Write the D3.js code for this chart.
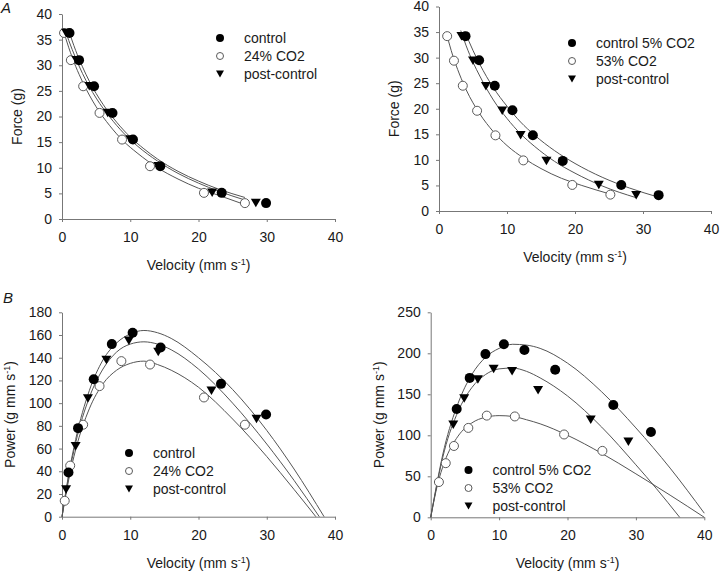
<!DOCTYPE html>
<html>
<head>
<meta charset="utf-8">
<script src="https://cdn.jsdelivr.net/npm/d3@7"></script>
<style>
  body { margin: 0; background: #fff; }
  text { font-family: "Liberation Sans", Arial, sans-serif; fill: #1a1a1a; }
</style>
</head>
<body>
<svg id="chart" width="720" height="572"></svg>
<script>
// ---- tick labels ----
const velTicks = [0, 10, 20, 30, 40];
const forceTicks = [0, 5, 10, 15, 20, 25, 30, 35, 40];
const powerTicksL = [0, 20, 40, 60, 80, 100, 120, 140, 160, 180];
const powerTicksR = [0, 50, 100, 150, 200, 250];

const legendLeft = ["control", "24% CO2", "post-control"];
const legendRight = ["control 5% CO2", "53% CO2", "post-control"];

// ---- panel A, left: force vs velocity (points) ----
const aLCtrlV = [1.1, 2.5, 4.7, 7.4, 10.4, 14.4, 23.4, 29.9];
const aLCtrlF = [36.3, 31.0, 25.9, 20.7, 15.5, 10.3, 5.1, 3.1];
const aLCo2V  = [0.3, 1.3, 3.1, 5.5, 8.8, 12.9, 20.8, 26.8];
const aLCo2F  = [36.3, 31.0, 25.9, 20.7, 15.5, 10.3, 5.1, 3.1];
const aLPostV = [0.6, 2.1, 4.0, 6.7, 10.0, 14.1, 22.0, 28.4];
const aLPostF = [36.3, 31.0, 25.9, 20.7, 15.5, 10.3, 5.1, 3.1];
// fitted curves
const aLCtrlFitV = [0.9, 2, 3, 4, 6, 8, 10, 12, 14, 17, 20, 23, 26.8];
const aLCtrlFitF = [37.1, 32.9, 29.7, 26.9, 22.4, 18.9, 16.0, 13.7, 11.7, 9.3, 7.4, 5.8, 4.2];
const aLCo2FitV  = [0.1, 1, 2, 3, 5, 7, 9, 11, 14, 17, 20, 23, 26.8];
const aLCo2FitF  = [37.2, 33.4, 29.8, 26.8, 21.9, 18.2, 15.2, 12.9, 10.0, 7.8, 6.0, 4.6, 2.8];
const aLPostFitV = [0.4, 1, 2, 3, 5, 7, 9, 11, 14, 17, 20, 23, 26.8];
const aLPostFitF = [37.1, 34.8, 31.4, 28.4, 23.6, 19.9, 16.8, 14.3, 11.3, 8.9, 7.0, 5.4, 3.7];

// ---- panel A, right ----
const aRCtrlV = [3.9, 5.9, 8.2, 10.8, 13.8, 18.2, 26.8, 32.3];
const aRCtrlF = [34.2, 29.5, 24.5, 19.7, 14.8, 9.8, 5.1, 3.1];
const aRCo2V  = [1.2, 2.2, 3.5, 5.6, 8.3, 12.4, 19.6, 25.2];
const aRCo2F  = [34.2, 29.4, 24.5, 19.6, 14.8, 9.9, 5.1, 3.2];
const aRPostV = [3.3, 5.0, 6.9, 9.3, 12.0, 15.8, 23.5, 29.0];
const aRPostF = [34.2, 29.4, 24.4, 19.6, 14.8, 9.8, 5.1, 3.1];
const aRCtrlFitV = [3.8, 5, 6, 8, 10, 12, 14, 17, 20, 24, 28, 32.3];
const aRCtrlFitF = [35.1, 31.4, 28.7, 24.1, 20.5, 17.4, 14.9, 11.8, 9.3, 6.6, 4.5, 2.7];
const aRCo2FitV  = [1.2, 2, 3, 4, 6, 8, 10, 12.5, 15, 18, 21, 25.2];
const aRCo2FitF  = [34.2, 30.5, 26.8, 23.7, 19.0, 15.5, 12.8, 10.3, 8.3, 6.4, 5.0, 3.3];
const aRPostFitV = [3.2, 4, 5, 6, 8, 10, 12, 14, 17, 20, 24, 29];
const aRPostFitF = [35.3, 32.3, 29.1, 26.4, 21.7, 18.1, 15.1, 12.7, 9.7, 7.4, 4.9, 2.6];

// ---- panel B, left: power vs velocity ----
const bLCtrlV = [0.95, 2.35, 4.65, 7.3, 10.35, 14.45, 23.3, 29.9];
const bLCtrlP = [39, 78, 121, 152, 162, 149, 117, 90];
const bLCo2V  = [0.4, 1.2, 3.1, 5.5, 8.7, 12.9, 20.8, 26.8];
const bLCo2P  = [14, 45, 81, 115, 137, 134, 105, 81];
const bLPostV = [0.6, 2.0, 3.8, 6.5, 9.8, 14.1, 21.9, 28.5];
const bLPostP = [24, 62, 104, 138, 155, 145, 111, 86];
const bLCtrlFitV = [0, 1, 2, 4, 6, 8, 10, 12, 14, 16, 20, 25, 30, 34, 38.4];
const bLCtrlFitP = [0, 38, 68, 111, 138, 153, 161, 164, 162, 157, 140, 112, 76, 42, 0];
const bLCo2FitV  = [0, 1, 2, 4, 6, 8, 10, 12, 14, 16, 20, 25, 30, 34, 37.2];
const bLCo2FitP  = [0, 33, 59, 95, 117, 129, 135, 137, 134, 129, 114, 86, 53, 24, 0];
const bLPostFitV = [0, 1, 2, 4, 6, 8, 10, 12, 14, 16, 20, 25, 30, 34, 37.7];
const bLPostFitP = [0, 36, 65, 105, 130, 145, 152, 154, 152, 147, 130, 100, 64, 32, 0];

// ---- panel B, right ----
const bRCtrlV = [3.8, 5.7, 8.0, 10.7, 13.7, 18.2, 26.7, 32.2];
const bRCtrlP = [132, 170, 199, 211, 204, 180, 137, 104];
const bRCo2V  = [1.2, 2.2, 3.4, 5.5, 8.2, 12.3, 19.5, 25.1];
const bRCo2P  = [43, 66, 87, 109, 124, 123, 101, 81];
const bRPostV = [3.3, 4.9, 6.9, 9.2, 11.9, 15.7, 23.4, 28.9];
const bRPostP = [113, 145, 168, 181, 178, 155, 119, 92];
const bRCtrlFitV = [0, 2, 4, 6, 8, 10, 12, 14, 16, 20, 25, 30, 35, 40];
const bRCtrlFitP = [0, 85, 139, 174, 195, 206, 211, 210, 206, 188, 153, 109, 60, 5];
const bRCo2FitV  = [0, 1, 2, 4, 6, 8, 10, 12, 14, 16, 20, 25, 30, 35, 40];
const bRCo2FitP  = [0, 40, 67, 99, 115, 122, 124, 123, 119, 114, 100, 78, 53, 27, 0];
const bRPostFitV = [0, 2, 4, 6, 8, 10, 12, 14, 16, 20, 25, 30, 33, 36.4];
const bRPostFitP = [0, 81, 129, 158, 174, 181, 182, 178, 170, 148, 110, 64, 35, 0];

const svg = d3.select("#chart");
const axisColor = "#777";
const curveColor = "#555";

function marker(g, kind, cx, cy, r) {
  if (kind === "tri") {
    const w = r, h = r * 0.85;
    g.append("path")
      .attr("d", `M${cx - w},${cy - h}L${cx + w},${cy - h}L${cx},${cy + h}Z`)
      .attr("fill", "#000");
  } else {
    g.append("circle")
      .attr("cx", cx).attr("cy", cy).attr("r", kind === "open" ? r - 0.5 : r)
      .attr("fill", kind === "open" ? "#fff" : "#000")
      .attr("stroke", kind === "open" ? "#5a5a5a" : "none")
      .attr("stroke-width", 1);
  }
}

function drawPanel(p) {
  const x = d3.scaleLinear().domain([0, 40]).range([p.left, p.right]);
  const y = d3.scaleLinear().domain([0, p.yMax]).range([p.bottom, p.top]);
  const g = svg.append("g");

  // X axis
  const gx = g.append("g")
    .attr("transform", `translate(0,${p.bottom})`)
    .call(d3.axisBottom(x).tickValues(velTicks).tickSize(3).tickSizeOuter(0).tickPadding(10));
  // Y axis
  const gy = g.append("g")
    .attr("transform", `translate(${p.left},0)`)
    .call(d3.axisLeft(y).tickValues(p.yTicks).tickSize(3).tickSizeOuter(0).tickPadding(7));
  [gx, gy].forEach(a => {
    a.attr("font-family", null).attr("font-size", 14);
    a.selectAll("path, line").attr("stroke", axisColor);
    a.selectAll("text").attr("fill", "#1a1a1a");
  });

  // axis titles
  const xt = g.append("text")
    .attr("x", (p.left + p.right) / 2).attr("y", p.bottom + 51)
    .attr("text-anchor", "middle").attr("font-size", 14);
  xt.append("tspan").text("Velocity (mm s");
  xt.append("tspan").attr("dy", -5).attr("font-size", 9).text("-1");
  xt.append("tspan").attr("dy", 5).text(")");

  const yt = g.append("text")
    .attr("transform", `translate(${p.left - p.yTitleOff},${(p.top + p.bottom) / 2}) rotate(-90)`)
    .attr("text-anchor", "middle").attr("font-size", 14);
  if (p.power) {
    yt.append("tspan").text("Power (g mm s");
    yt.append("tspan").attr("dy", -5).attr("font-size", 9).text("-1");
    yt.append("tspan").attr("dy", 5).text(")");
  } else {
    yt.text("Force (g)");
  }

  // fitted curves
  const line = d3.line().x(d => x(d[0])).y(d => y(d[1])).curve(d3.curveMonotoneX);
  p.fits.forEach(f => {
    g.append("path").attr("d", line(d3.zip(f[0], f[1])))
      .attr("fill", "none").attr("stroke", curveColor).attr("stroke-width", 1);
  });

  // data points: open first, then triangles, filled on top
  p.series.forEach(s => {
    d3.zip(s.v, s.y).forEach(d => marker(g, s.kind, x(d[0]), y(d[1]), 5));
  });

  // legend
  const kinds = ["filled", "open", "tri"];
  p.legend.forEach((lab, i) => {
    const ly = p.legY + i * 18;
    marker(g, kinds[i], p.legX, ly, 4);
    g.append("text").attr("x", p.legX + 24).attr("y", ly).attr("dy", "0.35em")
      .attr("font-size", 14).text(lab);
  });
}

drawPanel({
  left: 62, right: 335, top: 14, bottom: 219, yMax: 40, yTicks: forceTicks, yTitleOff: 40,
  fits: [[aLCtrlFitV, aLCtrlFitF], [aLCo2FitV, aLCo2FitF], [aLPostFitV, aLPostFitF]],
  series: [
    { kind: "open", v: aLCo2V, y: aLCo2F },
    { kind: "tri", v: aLPostV, y: aLPostF },
    { kind: "filled", v: aLCtrlV, y: aLCtrlF }
  ],
  legend: legendLeft, legX: 220, legY: 38
});

drawPanel({
  left: 439, right: 711, top: 6.5, bottom: 211, yMax: 40, yTicks: forceTicks, yTitleOff: 40,
  fits: [[aRCtrlFitV, aRCtrlFitF], [aRCo2FitV, aRCo2FitF], [aRPostFitV, aRPostFitF]],
  series: [
    { kind: "open", v: aRCo2V, y: aRCo2F },
    { kind: "tri", v: aRPostV, y: aRPostF },
    { kind: "filled", v: aRCtrlV, y: aRCtrlF }
  ],
  legend: legendRight, legX: 572, legY: 43
});

drawPanel({
  left: 62, right: 335, top: 312.3, bottom: 516.7, yMax: 180, yTicks: powerTicksL, yTitleOff: 47, power: true,
  fits: [[bLCtrlFitV, bLCtrlFitP], [bLCo2FitV, bLCo2FitP], [bLPostFitV, bLPostFitP]],
  series: [
    { kind: "open", v: bLCo2V, y: bLCo2P },
    { kind: "tri", v: bLPostV, y: bLPostP },
    { kind: "filled", v: bLCtrlV, y: bLCtrlP }
  ],
  legend: legendLeft, legX: 129, legY: 453
});

drawPanel({
  left: 430.7, right: 704.3, top: 312.3, bottom: 517.3, yMax: 250, yTicks: powerTicksR, yTitleOff: 47, power: true,
  fits: [[bRCtrlFitV, bRCtrlFitP], [bRCo2FitV, bRCo2FitP], [bRPostFitV, bRPostFitP]],
  series: [
    { kind: "open", v: bRCo2V, y: bRCo2P },
    { kind: "tri", v: bRPostV, y: bRPostP },
    { kind: "filled", v: bRCtrlV, y: bRCtrlP }
  ],
  legend: legendRight, legX: 468.5, legY: 470
});

// panel letters
svg.append("text").attr("x", 1).attr("y", 13).attr("font-size", 15).attr("font-style", "italic").text("A");
svg.append("text").attr("x", 3).attr("y", 303).attr("font-size", 15).attr("font-style", "italic").text("B");
</script>
</body>
</html>
